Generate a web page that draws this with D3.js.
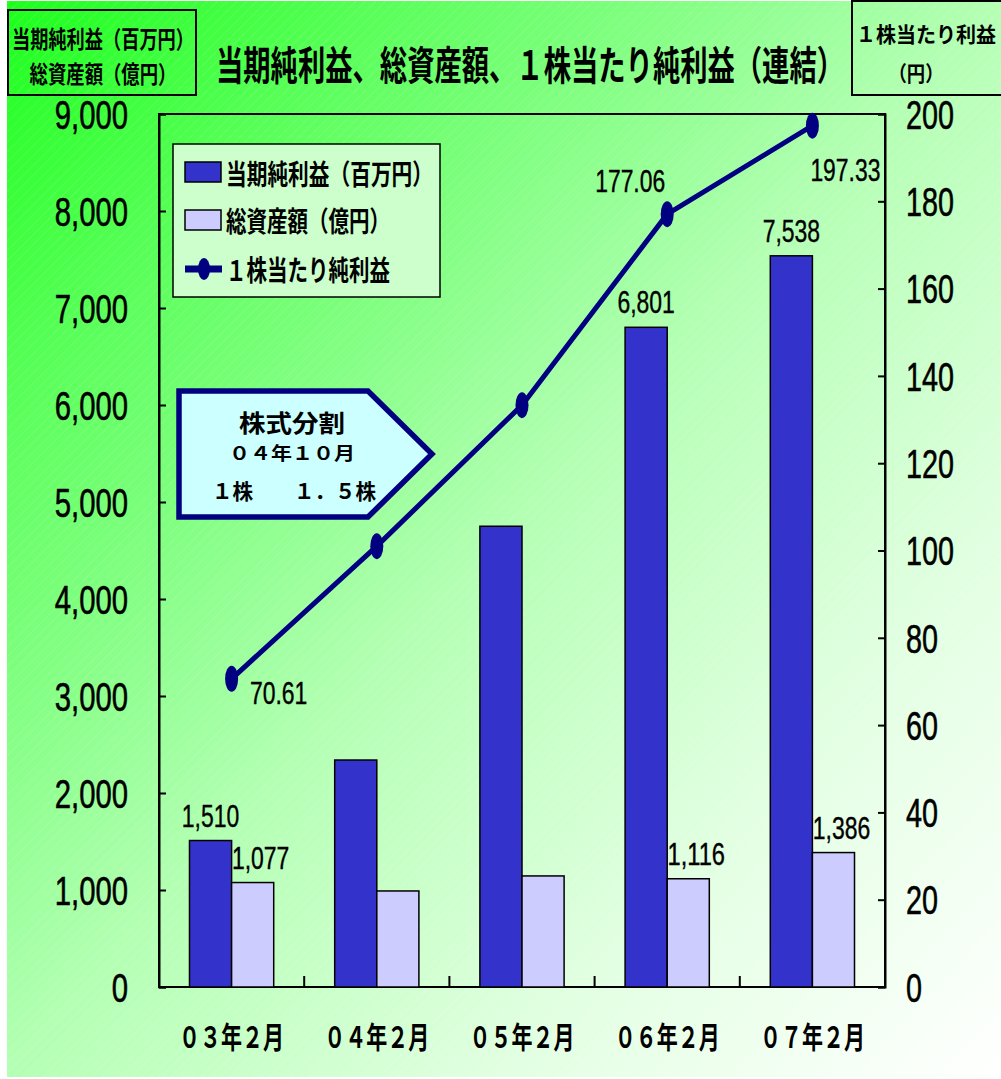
<!DOCTYPE html>
<html>
<head>
<meta charset="utf-8">
<script src="https://cdn.jsdelivr.net/npm/d3@7"></script>
<style>
  html, body { margin: 0; padding: 0; background: #ffffff; }
  svg { display: block; }
</style>
</head>
<body>
<svg id="chart" width="1001" height="1079"></svg>
<script>
// ---- data ----
const categories = ["０３年２月", "０４年２月", "０５年２月", "０６年２月", "０７年２月"];
const netIncome = [1510, 2340, 4750, 6801, 7538];        // 当期純利益（百万円）
const totalAssets = [1077, 990, 1145, 1116, 1386];       // 総資産額（億円）
const eps = [70.61, 101.0, 133.3, 177.06, 197.33];       // １株当たり純利益（円）
const labelledCategories = ["０３年２月", "０６年２月", "０７年２月"];
const leftTicks = [0, 1000, 2000, 3000, 4000, 5000, 6000, 7000, 8000, 9000];
const rightTicks = [0, 20, 40, 60, 80, 100, 120, 140, 160, 180, 200];
const seriesNames = ["当期純利益（百万円）", "総資産額（億円）", "１株当たり純利益"];
const chartTitle = "当期純利益、総資産額、１株当たり純利益（連結）";
const leftAxisTitle = ["当期純利益（百万円）", "総資産額（億円）"];
const rightAxisTitle = ["１株当たり利益", "（円）"];
const splitNote = ["株式分割", "０４年１０月", "１株　　１．５株"];

// ---- styling ----
const JP = "'Noto Sans CJK JP', 'Noto Sans CJK SC', sans-serif";
const NUM = "'Liberation Sans Narrow', 'Liberation Sans', Arial, sans-serif";
const DARK = "#3333CC", LIGHT = "#CCCCFF", NAVY = "#000080";

const svg = d3.select("#chart");
const defs = svg.append("defs");

const grad = defs.append("linearGradient").attr("id", "bgGrad")
  .attr("x1", 0).attr("y1", 0).attr("x2", 1).attr("y2", 1);
grad.append("stop").attr("offset", "0%").attr("stop-color", "#1CFF1C");
grad.append("stop").attr("offset", "20%").attr("stop-color", "#5CFF5C");
grad.append("stop").attr("offset", "50%").attr("stop-color", "#B4FFB4");
grad.append("stop").attr("offset", "75%").attr("stop-color", "#E2FFE2");
grad.append("stop").attr("offset", "100%").attr("stop-color", "#FFFFFF");

const hatch = defs.append("pattern").attr("id", "hatch")
  .attr("patternUnits", "userSpaceOnUse").attr("width", 7).attr("height", 7)
  .attr("patternTransform", "rotate(45)");
hatch.append("line").attr("x1", 0).attr("y1", 0).attr("x2", 0).attr("y2", 7)
  .attr("stroke", "#ffffff").attr("stroke-opacity", 0.22).attr("stroke-width", 1);

// background
svg.append("rect").attr("x", 7).attr("y", 1).attr("width", 994).attr("height", 1076)
  .attr("fill", "url(#bgGrad)");
svg.append("rect").attr("x", 7).attr("y", 1).attr("width", 994).attr("height", 1076)
  .attr("fill", "url(#hatch)");

// ---- helpers ----
function squeeze(sel, w) {
  return sel.attr("textLength", w).attr("lengthAdjust", "spacingAndGlyphs");
}
function numWidth(s, dw, pw) {
  let w = 0;
  for (const ch of s) w += /[0-9]/.test(ch) ? dw : pw;
  return w;
}
// Condensed Japanese text: the font size is chosen so the string's natural
// width equals `width`, then the glyphs are stretched vertically to `size`.
function jpText(x, y, txt, size, width, anchor = "middle") {
  const n = [...txt].length;
  const fs = width / n;
  const g = svg.append("g").attr("transform", `translate(${x},${y}) scale(1,${size / fs})`);
  const t = g.append("text").attr("x", 0).attr("y", 0)
    .attr("text-anchor", anchor).attr("dominant-baseline", "central")
    .attr("font-family", JP).attr("font-weight", 700).attr("font-size", fs)
    .attr("fill", "#000").text(txt);
  return squeeze(t, width);
}

// ---- scales ----
const plot = { left: 159, right: 885, top: 114, bottom: 987 };
const x = d3.scaleBand().domain(categories).range([plot.left, plot.right])
  .paddingInner(0.42).paddingOuter(0.21);
const sub = d3.scaleBand().domain(["net", "assets"]).range([0, x.bandwidth()]);
const yL = d3.scaleLinear().domain([0, 9000]).range([plot.bottom, plot.top]);
const yR = d3.scaleLinear().domain([0, 200]).range([plot.bottom, plot.top]);
const fmt = d3.format(",");

// ---- frame and axes ----
svg.append("rect").attr("x", plot.left).attr("y", plot.top)
  .attr("width", plot.right - plot.left).attr("height", plot.bottom - plot.top)
  .attr("fill", "none").attr("stroke", "#000").attr("stroke-width", 2);

const leftAxis = svg.append("g").attr("transform", `translate(${plot.left},0)`)
  .call(d3.axisRight(yL).tickValues(leftTicks).tickSize(7).tickFormat(""));
const rightAxis = svg.append("g").attr("transform", `translate(${plot.right},0)`)
  .call(d3.axisLeft(yR).tickValues(rightTicks).tickSize(7).tickFormat(""));
[leftAxis, rightAxis].forEach(a => {
  a.select(".domain").attr("stroke", "#000").attr("stroke-width", 2);
  a.selectAll(".tick line").attr("stroke", "#000").attr("stroke-width", 2);
});

// category separators on the x axis
const bounds = categories.slice(1).map(c => x(c) - x.step() * x.paddingInner() / 2);
svg.append("g").selectAll("line").data(bounds).join("line")
  .attr("x1", d => d).attr("x2", d => d)
  .attr("y1", plot.bottom).attr("y2", plot.bottom - 11)
  .attr("stroke", "#000").attr("stroke-width", 2);

// left tick labels
svg.append("g").selectAll("text").data(leftTicks).join("text")
  .attr("x", 128).attr("y", d => yL(d)).attr("dy", "0.36em")
  .attr("text-anchor", "end").attr("font-family", NUM).attr("font-size", 41)
  .attr("fill", "#000").attr("stroke", "#000").attr("stroke-width", 0.6)
  .text(d => fmt(d))
  .each(function (d) { squeeze(d3.select(this), numWidth(fmt(d), 16.3, 8)); });

// right tick labels
svg.append("g").selectAll("text").data(rightTicks).join("text")
  .attr("x", 906).attr("y", d => yR(d)).attr("dy", "0.36em")
  .attr("text-anchor", "start").attr("font-family", NUM).attr("font-size", 41)
  .attr("fill", "#000").attr("stroke", "#000").attr("stroke-width", 0.6)
  .text(d => d)
  .each(function (d) { squeeze(d3.select(this), numWidth(String(d), 16, 8)); });

// category labels
categories.forEach(c => jpText(x(c) + x.bandwidth() / 2, 1035, c, 30, 105));

// ---- bars ----
const rows = categories.map((c, i) => ({ c, net: netIncome[i], assets: totalAssets[i], eps: eps[i] }));
const barG = svg.append("g");
barG.selectAll("rect.net").data(rows).join("rect").attr("class", "net")
  .attr("x", d => x(d.c) + sub("net")).attr("width", sub.bandwidth())
  .attr("y", d => yL(d.net)).attr("height", d => yL(0) - yL(d.net))
  .attr("fill", DARK).attr("stroke", "#000").attr("stroke-width", 1.5);
barG.selectAll("rect.assets").data(rows).join("rect").attr("class", "assets")
  .attr("x", d => x(d.c) + sub("assets")).attr("width", sub.bandwidth())
  .attr("y", d => yL(d.assets)).attr("height", d => yL(0) - yL(d.assets))
  .attr("fill", LIGHT).attr("stroke", "#000").attr("stroke-width", 1.5);

// bar value labels
const labelled = rows.filter(d => labelledCategories.includes(d.c));
function numLabel(g, data, fx, fy, txt) {
  g.selectAll(null).data(data).join("text")
    .attr("x", fx).attr("y", fy).attr("dy", "0.36em")
    .attr("text-anchor", "middle").attr("font-family", NUM).attr("font-size", 31)
    .attr("fill", "#000").attr("stroke", "#000").attr("stroke-width", 0.4)
    .text(txt)
    .each(function (d) { squeeze(d3.select(this), numWidth(txt(d), 12.6, 7)); });
}
const lblG = svg.append("g");
numLabel(lblG, labelled, d => x(d.c) + sub("net") + sub.bandwidth() / 2,
  d => yL(d.net) - 25, d => fmt(d.net));
numLabel(lblG, labelled, d => x(d.c) + sub("assets") + sub.bandwidth() / 2 + 8,
  d => yL(d.assets) - 25, d => fmt(d.assets));

// ---- EPS line ----
const cx = d => x(d.c) + x.bandwidth() / 2;
svg.append("path").datum(rows)
  .attr("d", d3.line().x(cx).y(d => yR(d.eps)))
  .attr("fill", "none").attr("stroke", NAVY).attr("stroke-width", 5)
  .attr("stroke-linejoin", "round");
svg.append("g").selectAll("ellipse").data(rows).join("ellipse")
  .attr("cx", cx).attr("cy", d => yR(d.eps)).attr("rx", 6.5).attr("ry", 13)
  .attr("fill", NAVY);

// EPS value labels, placed beside each marker
const epsOffset = { "０３年２月": [47, 14], "０６年２月": [-37, -33], "０７年２月": [33, 44] };
numLabel(lblG, labelled, d => cx(d) + epsOffset[d.c][0],
  d => yR(d.eps) + epsOffset[d.c][1], d => d3.format(".2f")(d.eps));

// ---- legend ----
svg.append("rect").attr("x", 173).attr("y", 144).attr("width", 267).attr("height", 153)
  .attr("fill", "#CCFFCC").attr("stroke", "#000").attr("stroke-width", 1.5);
svg.append("rect").attr("x", 185).attr("y", 162).attr("width", 36).attr("height", 20)
  .attr("fill", DARK).attr("stroke", "#000").attr("stroke-width", 1.5);
svg.append("rect").attr("x", 185).attr("y", 210).attr("width", 36).attr("height", 20)
  .attr("fill", LIGHT).attr("stroke", "#000").attr("stroke-width", 1.5);
svg.append("line").attr("x1", 185).attr("x2", 222).attr("y1", 269).attr("y2", 269)
  .attr("stroke", NAVY).attr("stroke-width", 7);
svg.append("ellipse").attr("cx", 204).attr("cy", 269).attr("rx", 6).attr("ry", 11)
  .attr("fill", NAVY);
jpText(226, 172, seriesNames[0], 28, 207, "start");
jpText(226, 220, seriesNames[1], 28, 164, "start");
jpText(226, 269, seriesNames[2], 28, 164, "start");

// ---- stock split callout ----
svg.append("path")
  .attr("d", "M179,391 L368,391 L432,454 L368,517 L179,517 Z")
  .attr("fill", "#CCFFFF").attr("stroke", NAVY).attr("stroke-width", 5.5)
  .attr("stroke-linejoin", "miter");
jpText(292, 422, splitNote[0], 24, 106);
jpText(292, 452, splitNote[1], 18, 126);
jpText(294, 490, splitNote[2], 21, 164);

// ---- titles ----
jpText(530, 62, chartTitle, 40, 628);

svg.append("rect").attr("x", 8).attr("y", 10).attr("width", 188).attr("height", 85)
  .attr("fill", "none").attr("stroke", "#000").attr("stroke-width", 2);
jpText(103, 37, leftAxisTitle[0], 24, 182);
jpText(103, 72, leftAxisTitle[1], 24, 147);

svg.append("rect").attr("x", 852).attr("y", 1).attr("width", 160).attr("height", 94)
  .attr("fill", "none").attr("stroke", "#000").attr("stroke-width", 2);
jpText(926, 33, rightAxisTitle[0], 21, 140);
jpText(916, 72, rightAxisTitle[1], 21, 55);
</script>
</body>
</html>
